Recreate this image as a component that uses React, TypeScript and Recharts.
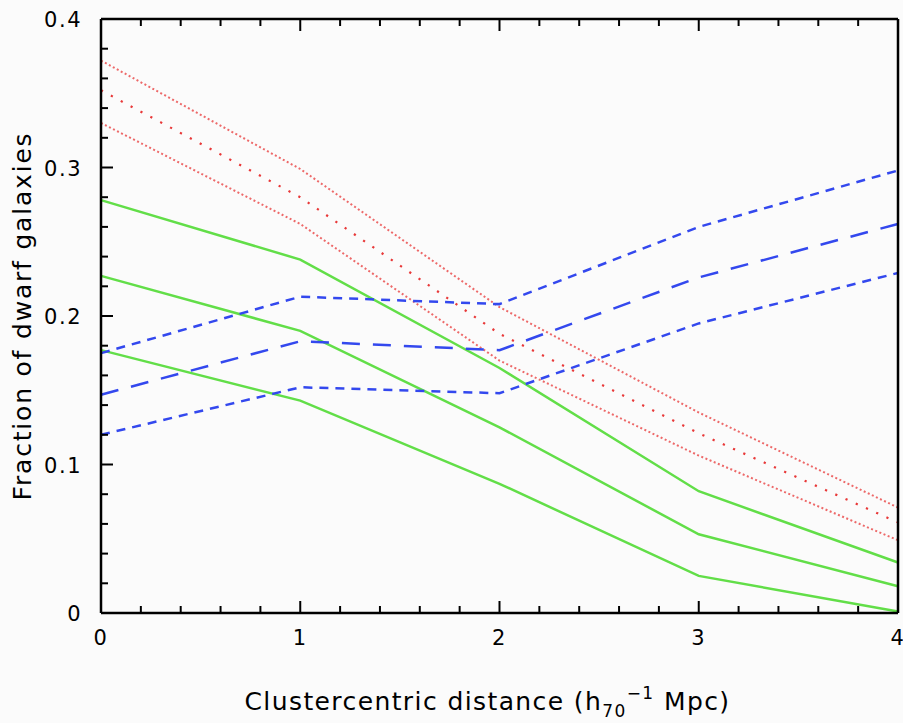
import { LineChart, Line, XAxis, YAxis, Label } from "recharts";

const distance = [0, 1, 2, 3, 4];

const redUpper = [0.372, 0.299, 0.206, 0.135, 0.071];
const redMid = [0.352, 0.28, 0.188, 0.121, 0.061];
const redLower = [0.33, 0.262, 0.17, 0.106, 0.049];

const greenUpper = [0.278, 0.238, 0.165, 0.082, 0.034];
const greenMid = [0.227, 0.19, 0.125, 0.053, 0.018];
const greenLower = [0.177, 0.143, 0.087, 0.025, 0.001];

const blueUpper = [0.175, 0.213, 0.208, 0.26, 0.298];
const blueMid = [0.147, 0.183, 0.177, 0.226, 0.262];
const blueLower = [0.12, 0.152, 0.148, 0.195, 0.229];

const xTicks = [
  0, 0.2, 0.4, 0.6, 0.8, 1, 1.2, 1.4, 1.6, 1.8, 2, 2.2, 2.4, 2.6, 2.8, 3, 3.2,
  3.4, 3.6, 3.8, 4,
];
const yTicks = [
  0, 0.02, 0.04, 0.06, 0.08, 0.1, 0.12, 0.14, 0.16, 0.18, 0.2, 0.22, 0.24, 0.26,
  0.28, 0.3, 0.32, 0.34, 0.36, 0.38, 0.4,
];

const data = distance.map((x, i) => ({
  x,
  redUpper: redUpper[i],
  redMid: redMid[i],
  redLower: redLower[i],
  greenUpper: greenUpper[i],
  greenMid: greenMid[i],
  greenLower: greenLower[i],
  blueUpper: blueUpper[i],
  blueMid: blueMid[i],
  blueLower: blueLower[i],
}));

const FONT = "'DejaVu Sans', sans-serif";
const RED = "#e83838";
const GREEN = "#62de48";
const BLUE = "#3348ee";

const isMajor = (v: number, step: number) =>
  Math.abs(v / step - Math.round(v / step)) < 1e-6;

const BottomTick = ({ x, y, payload }: any) => {
  const major = isMajor(payload.value, 1);
  return (
    <g>
      <line x1={x} y1={y} x2={x} y2={y - (major ? 12 : 7)} stroke="#000" strokeWidth={2} />
      {major && (
        <text x={x} y={y + 32} textAnchor="middle" fontFamily={FONT} fontSize={21} letterSpacing={1.5} fill="#000">
          {payload.value}
        </text>
      )}
    </g>
  );
};

const TopTick = ({ x, y, payload }: any) => {
  const major = isMajor(payload.value, 1);
  return <line x1={x} y1={y} x2={x} y2={y + (major ? 12 : 7)} stroke="#000" strokeWidth={2} />;
};

const LeftTick = ({ x, y, payload }: any) => {
  const major = isMajor(payload.value, 0.1);
  return (
    <g>
      <line x1={x} y1={y} x2={x + (major ? 12 : 7)} y2={y} stroke="#000" strokeWidth={2} />
      {major && (
        <text x={x - 19} y={y + 8} textAnchor="end" fontFamily={FONT} fontSize={21} letterSpacing={1.5} fill="#000">
          {payload.value === 0 ? "0" : payload.value.toFixed(1)}
        </text>
      )}
    </g>
  );
};

const RightTick = ({ x, y, payload }: any) => {
  const major = isMajor(payload.value, 0.1);
  return <line x1={x} y1={y} x2={x - (major ? 12 : 7)} y2={y} stroke="#000" strokeWidth={2} />;
};

const XTitle = ({ viewBox }: any) => {
  const cx = viewBox.x + viewBox.width / 2 - 12;
  const by = viewBox.y + 97;
  return (
    <text x={cx} y={by} textAnchor="middle" fontFamily={FONT} fontSize={25} letterSpacing={1.4} fill="#000">
      Clustercentric distance (h
      <tspan fontSize={17} dy={7}>70</tspan>
      <tspan fontSize={17} dy={-18}>−1</tspan>
      <tspan dy={11}> Mpc)</tspan>
    </text>
  );
};

const YTitle = ({ viewBox }: any) => {
  const cx = 31;
  const cy = viewBox.y + viewBox.height / 2;
  return (
    <text
      x={cx}
      y={cy}
      transform={`rotate(-90 ${cx} ${cy})`}
      textAnchor="middle"
      fontFamily={FONT}
      fontSize={25}
      letterSpacing={1.8}
      fill="#000"
    >
      Fraction of dwarf galaxies
    </text>
  );
};

const App = () => {
  return (
    <div style={{ width: 903, height: 723, background: "#fbfbfb" }}>
      <style>{`body{margin:0}`}</style>
      <LineChart width={903} height={723} data={data} margin={{ top: 18, right: 4, left: 0, bottom: 0 }}>
        <XAxis
          dataKey="x"
          type="number"
          domain={[0, 4]}
          ticks={xTicks}
          interval={0}
          height={110}
          tickSize={0}
          tickMargin={0}
          tickLine={false}
          tick={<BottomTick />}
          axisLine={{ stroke: "#000", strokeWidth: 2.5 }}
        >
          <Label content={<XTitle />} />
        </XAxis>
        <XAxis
          xAxisId="top"
          orientation="top"
          dataKey="x"
          type="number"
          domain={[0, 4]}
          ticks={xTicks}
          interval={0}
          height={1}
          tickSize={0}
          tickMargin={0}
          tickLine={false}
          tick={<TopTick />}
          axisLine={{ stroke: "#000", strokeWidth: 2.5 }}
        />
        <YAxis
          type="number"
          domain={[0, 0.4]}
          ticks={yTicks}
          interval={0}
          width={101}
          tickSize={0}
          tickMargin={0}
          tickLine={false}
          tick={<LeftTick />}
          axisLine={{ stroke: "#000", strokeWidth: 2.5 }}
        >
          <Label content={<YTitle />} />
        </YAxis>
        <YAxis
          yAxisId="right"
          orientation="right"
          type="number"
          domain={[0, 0.4]}
          ticks={yTicks}
          interval={0}
          width={1}
          tickSize={0}
          tickMargin={0}
          tickLine={false}
          tick={<RightTick />}
          axisLine={{ stroke: "#000", strokeWidth: 2.5 }}
        />

        <Line dataKey="redUpper" type="linear" stroke={RED} strokeWidth={2} strokeDasharray="2 2.5" strokeOpacity={0.75} dot={false} isAnimationActive={false} />
        <Line dataKey="redMid" type="linear" stroke={RED} strokeWidth={2.2} strokeDasharray="2.2 9" dot={false} isAnimationActive={false} />
        <Line dataKey="redLower" type="linear" stroke={RED} strokeWidth={2} strokeDasharray="2 2.5" strokeOpacity={0.75} dot={false} isAnimationActive={false} />

        <Line dataKey="greenUpper" type="linear" stroke={GREEN} strokeWidth={2.5} dot={false} isAnimationActive={false} />
        <Line dataKey="greenMid" type="linear" stroke={GREEN} strokeWidth={2.5} dot={false} isAnimationActive={false} />
        <Line dataKey="greenLower" type="linear" stroke={GREEN} strokeWidth={2.5} dot={false} isAnimationActive={false} />

        <Line dataKey="blueUpper" type="linear" stroke={BLUE} strokeWidth={2.5} strokeDasharray="9 7" dot={false} isAnimationActive={false} />
        <Line dataKey="blueMid" type="linear" stroke={BLUE} strokeWidth={2.5} strokeDasharray="18 13" dot={false} isAnimationActive={false} />
        <Line dataKey="blueLower" type="linear" stroke={BLUE} strokeWidth={2.5} strokeDasharray="9 7" dot={false} isAnimationActive={false} />
      </LineChart>
    </div>
  );
};

export default App;
